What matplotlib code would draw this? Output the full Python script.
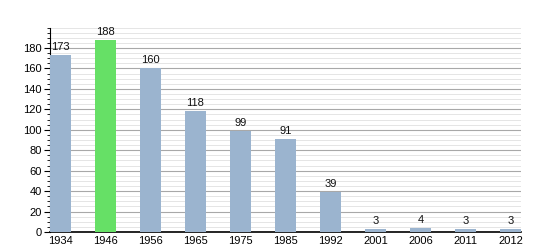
import matplotlib
matplotlib.use("Agg")
import matplotlib.pyplot as plt
from matplotlib.ticker import MultipleLocator

plt.rcParams['font.family'] = ['Liberation Sans', 'DejaVu Sans']

years = ["1934", "1946", "1956", "1965", "1975", "1985", "1992", "2001", "2006", "2011", "2012"]
values = [173, 188, 160, 118, 99, 91, 39, 3, 4, 3, 3]
highlight = "1946"

blue = "#9bb4cf"
green = "#66e066"
colors = [green if y == highlight else blue for y in years]

fig = plt.figure(figsize=(5.5, 2.5), dpi=100)
ax = fig.add_axes([50/550, 1-232/250, (521-50)/550, (232-27.6)/250])

x = list(range(len(years)))
ax.bar(x, values, width=0.47, color=colors, zorder=3)
for xi, v in zip(x, values):
    ax.text(xi, v + 3, str(v), ha="center", va="bottom", fontsize=8, color="#111111", zorder=4)

ax.set_xlim(-0.235, len(years) - 1 + 0.235)
ax.set_ylim(0, 200)
ax.set_xticks(x)
ax.set_xticklabels(years)
ax.set_yticks([0, 20, 40, 60, 80, 100, 120, 140, 160, 180])
ax.yaxis.set_minor_locator(MultipleLocator(5))
ax.grid(axis="y", which="major", color="#a8a8a8", linewidth=0.8, zorder=0)
ax.grid(axis="y", which="minor", color="#e0e0e0", linewidth=0.6, zorder=0)
for s in ["top", "right"]:
    ax.spines[s].set_visible(False)
ax.spines["left"].set_color("black")
ax.spines["bottom"].set_color("black")
ax.spines["bottom"].set_linewidth(1.2)
ax.tick_params(axis="x", length=0, labelsize=8, pad=3)
ax.tick_params(axis="y", which="major", length=4, labelsize=8, pad=2)
ax.tick_params(axis="y", which="minor", length=2)

fig.savefig("out.png", dpi=100)
